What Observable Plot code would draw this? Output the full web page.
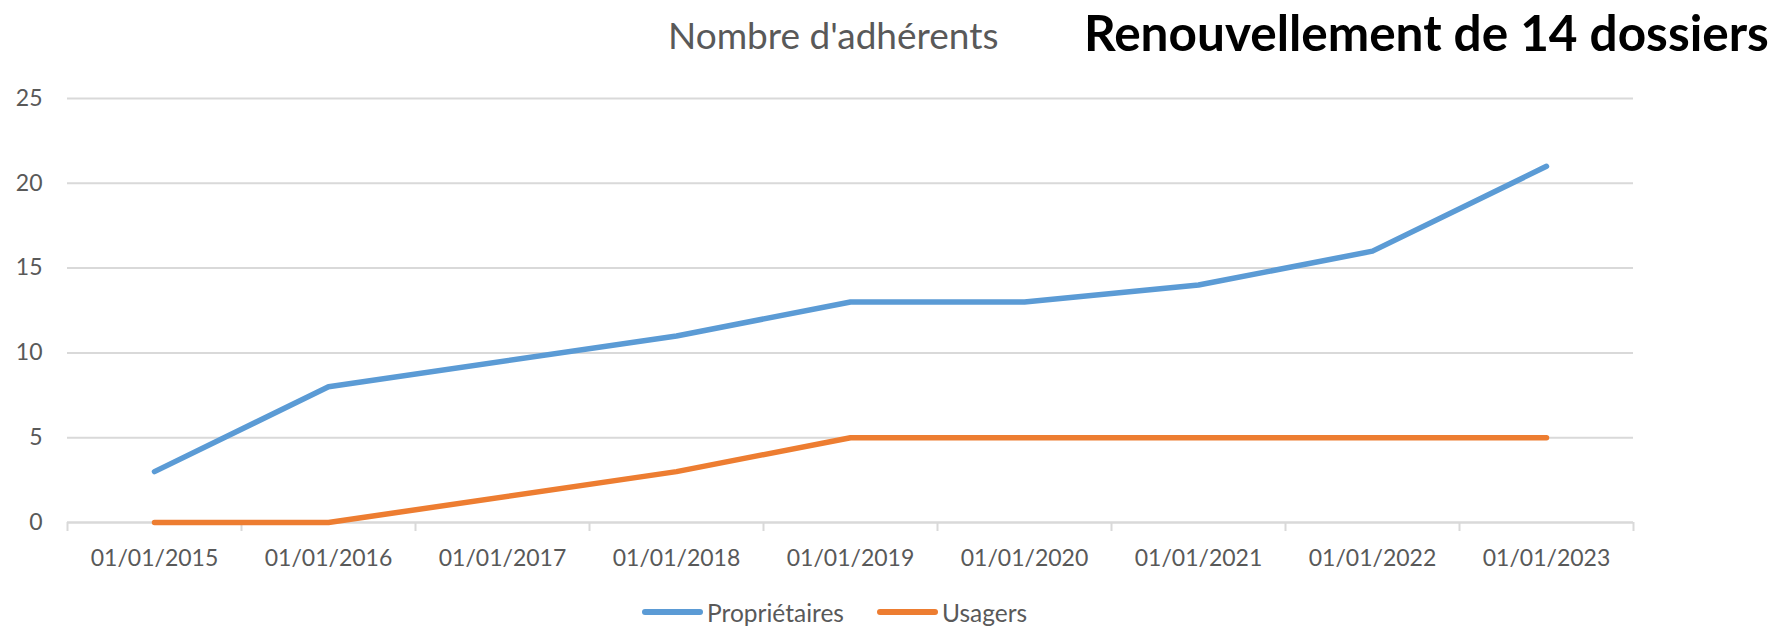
<!DOCTYPE html>
<html>
<head>
<meta charset="utf-8">
<script src="https://cdn.jsdelivr.net/npm/d3@7"></script>
<script src="https://cdn.jsdelivr.net/npm/@observablehq/plot@0.6"></script>
<style>
  html, body { margin: 0; padding: 0; background: #fff; }
  #wrap { position: relative; width: 1789px; height: 628px; overflow: hidden; font-family: Lato, "Open Sans", sans-serif; }
  #t1 { position: absolute; left: 668px; top: 12px; font-size: 37px; color: #595959; white-space: nowrap; }
  #t2 { position: absolute; left: 1084px; top: 2px; font-size: 49.5px; font-weight: bold; color: #000; white-space: nowrap; }
  #chart { position: absolute; left: 0; top: 80px; }
  #legend { position: absolute; top: 597px; left: 0; width: 1789px; height: 30px; }
  .item { position: absolute; top: 0; display: flex; align-items: center; height: 30px; font-size: 24.5px; color: #595959; }
  .sw { width: 61px; height: 5.5px; border-radius: 3px; margin-right: 4px; }
</style>
</head>
<body>
<div id="wrap">
  <div id="t1"></div>
  <div id="t2"></div>
  <div id="chart"></div>
  <div id="legend"></div>
</div>
<script>
// ---- data ----
const years = [2015, 2016, 2017, 2018, 2019, 2020, 2021, 2022, 2023];
const tickLabels = ["01/01/2015","01/01/2016","01/01/2017","01/01/2018","01/01/2019","01/01/2020","01/01/2021","01/01/2022","01/01/2023"];
const proprietaires = [3, 8, null, 11, 13, 13, 14, 16, 21];
const usagers = [0, 0, null, 3, 5, 5, 5, 5, 5];
const seriesNames = ["Propriétaires", "Usagers"];
const seriesColors = ["#5B9BD5", "#ED7D31"];
const yTicks = [0, 5, 10, 15, 20, 25];
const chartTitle = "Nombre d'adhérents";
const sideTitle = "Renouvellement de 14 dossiers";

document.getElementById("t1").textContent = chartTitle;
document.getElementById("t2").textContent = sideTitle;

const rows = [];
years.forEach((yr, i) => {
  rows.push({year: yr, value: proprietaires[i], series: seriesNames[0]});
  rows.push({year: yr, value: usagers[i], series: seriesNames[1]});
});
const defined = rows.filter(d => d.value != null);

const boundaries = years.map(y => y - 0.5).concat([years[years.length - 1] + 0.5]);
const labelOf = new Map(years.map((y, i) => [y, tickLabels[i]]));

const grid = "#d9d9d9";
const chart = Plot.plot({
  width: 1789,
  height: 492,
  marginLeft: 67,
  marginRight: 156,
  marginTop: 18,
  marginBottom: 50,
  style: { fontFamily: "Lato, 'Open Sans', sans-serif", fontSize: "23px", color: "#595959", background: "#fff" },
  x: { domain: [boundaries[0], boundaries[boundaries.length - 1]] },
  y: { domain: [0, 25] },
  color: { domain: seriesNames, range: seriesColors },
  marks: [
    Plot.gridY(yTicks.filter(t => t > 0), { stroke: grid, strokeOpacity: 1, strokeWidth: 2 }),
    Plot.ruleY([0], { stroke: grid, strokeWidth: 2.5 }),
    Plot.axisY({ ticks: yTicks, tickSize: 0, tickPadding: 25, tickFormat: d => String(d), label: null, fill: "#595959" }),
    Plot.axisX({ ticks: boundaries, tickSize: 9, tickFormat: () => "", stroke: grid, strokeWidth: 2, label: null }),
    Plot.axisX({ ticks: years, tickSize: 0, tickPadding: 27, tickFormat: d => labelOf.get(d), label: null, fill: "#595959" }),
    Plot.line(defined, { x: "year", y: "value", z: "series", stroke: "series", strokeWidth: 5.5, strokeLinecap: "round", strokeLinejoin: "round" })
  ]
});
document.getElementById("chart").appendChild(chart);

// legend
const legend = document.getElementById("legend");
const legendLefts = [642, 877];
seriesNames.forEach((name, i) => {
  const item = document.createElement("div");
  item.className = "item";
  item.style.left = legendLefts[i] + "px";
  const sw = document.createElement("div");
  sw.className = "sw";
  sw.style.background = seriesColors[i];
  const tx = document.createElement("span");
  tx.textContent = name;
  item.appendChild(sw);
  item.appendChild(tx);
  legend.appendChild(item);
});
</script>
</body>
</html>
